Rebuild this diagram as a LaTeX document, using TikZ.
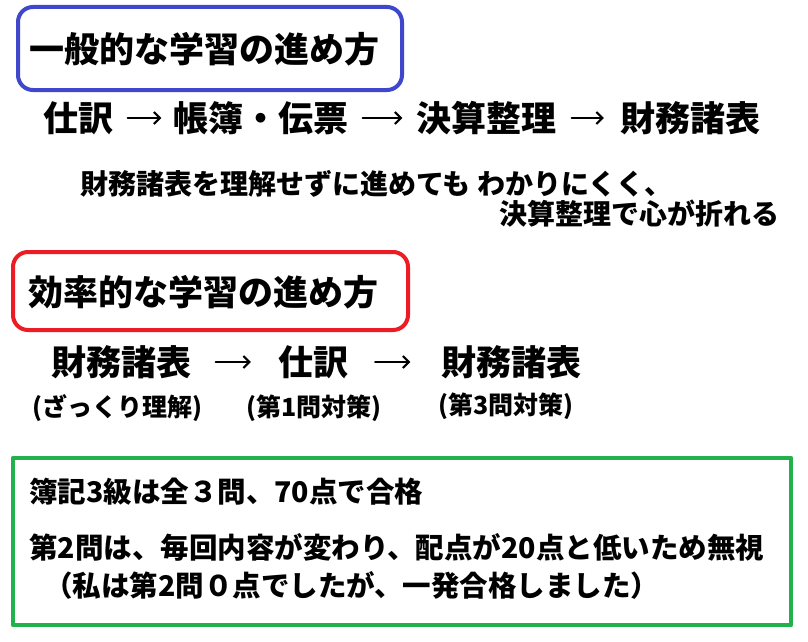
\documentclass[tikz,border=0pt]{standalone}
\usepackage{fontspec}
\setmainfont{Noto Sans CJK JP}
\usetikzlibrary{arrows.meta}
\definecolor{boxblue}{RGB}{63,72,204}
\definecolor{boxred}{RGB}{237,28,36}
\definecolor{boxgreen}{RGB}{34,177,76}
\tikzset{
  heading/.style={font=\fontsize{35}{35}\selectfont\bfseries, inner sep=0pt, anchor=west},
  term/.style={font=\fontsize{35}{35}\selectfont\bfseries, inner sep=0pt},
  remark/.style={font=\fontsize{28}{28}\selectfont\bfseries, inner sep=0pt},
  sublabel/.style={font=\fontsize{25}{25}\selectfont\bfseries, inner sep=0pt},
  memo/.style={font=\fontsize{28.5}{28.5}\selectfont\bfseries, inner sep=0pt, anchor=west},
  flow/.style={->, line width=2pt},
}
\begin{document}
\begin{tikzpicture}[x=1pt, y=-1pt, line join=round, line cap=round, >={Straight Barb[length=6pt,width=12pt]}]
	\path[use as bounding box, fill=white] (0,0) rectangle (808,642);
	% 一般的な学習
	\draw[boxblue, line width=4pt, rounded corners=15pt] (18,7) rectangle (402,90);
	\node[heading] (ippan) at (29,49) {一般的な学習の進め方};
	\node[term] (shiwake) at (78.5,118) {仕訳};
	\node[term] (chobo) at (261,118) {帳簿・伝票};
	\node[term] (kessan) at (486.5,118) {決算整理};
	\node[term] (zaimu) at (690,118) {財務諸表};
	\draw[flow, shorten <=14pt, shorten >=12pt] (shiwake) -- (chobo);
	\draw[flow, shorten <=14pt, shorten >=14pt] (chobo) -- (kessan);
	\draw[flow, shorten <=15pt, shorten >=16pt] (kessan) -- (zaimu);
	\node[remark, anchor=west] (rem1) at (80,184) {財務諸表を理解せずに進めても わかりにくく、};
	\node[remark, anchor=east] (rem2) at (780,214) {決算整理で心が折れる};
	% 効率的な学習
	\draw[boxred, line width=4pt, rounded corners=15pt] (13,252) rectangle (408,330);
	\node[heading] (koritsu) at (28,292) {効率的な学習の進め方};
	\node[term] (zaimuA) at (121.5,362) {財務諸表};
	\node[term] (shiwakeB) at (313,362) {仕訳};
	\node[term] (zaimuC) at (511.5,362) {財務諸表};
	\draw[flow, shorten <=24pt, shorten >=27pt] (zaimuA) -- (shiwakeB);
	\draw[flow, shorten <=27pt, shorten >=31pt] (shiwakeB) -- (zaimuC);
	\node[sublabel] (subA) at (117.5,408) {(ざっくり理解)};
	\node[sublabel] (subB) at (314,408) {(第1問対策)};
	\node[sublabel] (subC) at (506,406) {(第3問対策)};
	% 簿記3級
	\draw[boxgreen, line width=4.5pt] (13,458) rectangle (791,625);
	\node[memo] (memo1) at (29,492) {簿記3級は全３問、70点で合格};
	\node[memo] (memo2) at (29,547.5) {第2問は、毎回内容が変わり、配点が20点と低いため無視};
	\node[memo] (memo3) at (44,585) {（私は第2問０点でしたが、一発合格しました）};
\end{tikzpicture}
\end{document}
